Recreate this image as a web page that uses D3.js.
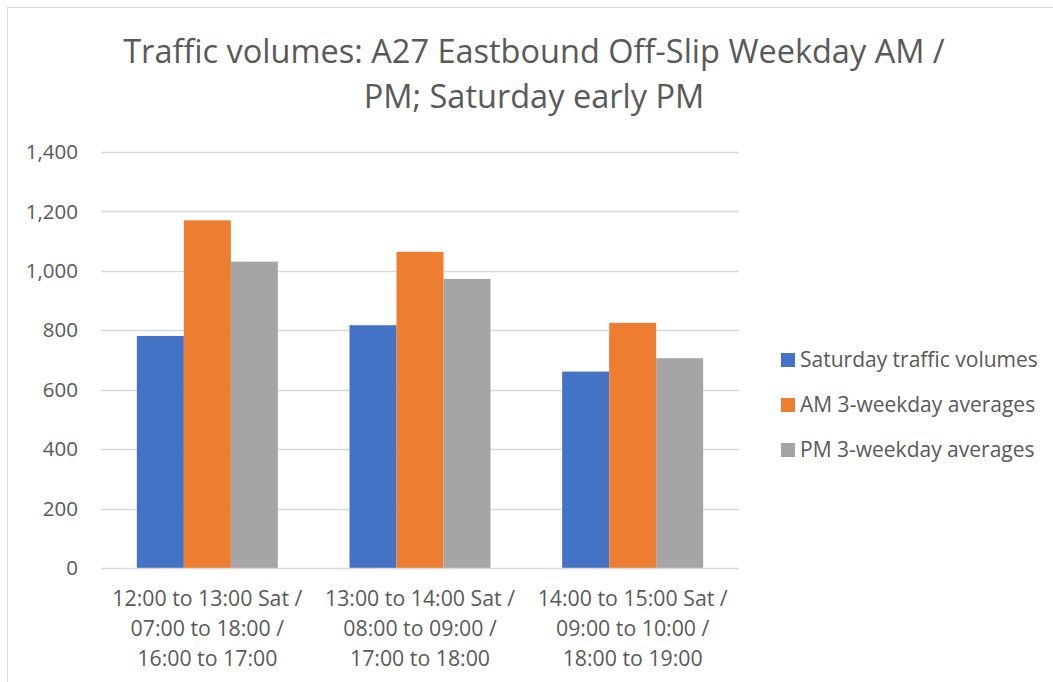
<!DOCTYPE html>
<html><head><meta charset="utf-8">
<script src="https://cdn.jsdelivr.net/npm/d3@7"></script>
<style>body{margin:0;background:#fff}svg{display:block}text{font-family:"Open Sans",sans-serif;fill:#595959}</style>
</head><body>
<script>
const categories = [
  ["12:00 to 13:00 Sat /", "07:00 to 18:00 /", "16:00 to 17:00"],
  ["13:00 to 14:00 Sat /", "08:00 to 09:00 /", "17:00 to 18:00"],
  ["14:00 to 15:00 Sat /", "09:00 to 10:00 /", "18:00 to 19:00"]
];
const seriesNames = ["Saturday traffic volumes", "AM 3-weekday averages", "PM 3-weekday averages"];
const saturday = [781, 817, 661];
const am3 = [1170, 1064, 825];
const pm3 = [1031, 973, 706];
const yTicks = [0, 200, 400, 600, 800, 1000, 1200, 1400];
const titleLines = ["Traffic volumes: A27 Eastbound Off-Slip Weekday AM /", "PM; Saturday early PM"];
const colors = ["#4472C4", "#ED7D31", "#A5A5A5"];

const W = 1053, H = 682;
const svg = d3.select("body").append("svg").attr("width", W).attr("height", H);
svg.append("rect").attr("x", 7.5).attr("y", 7.5).attr("width", 1100).attr("height", 700)
  .attr("fill", "#fff").attr("stroke", "#d9d9d9");

const plot = {left: 101, right: 739, top: 152, bottom: 568};
const y = d3.scaleLinear().domain([0, 1400]).range([plot.bottom, plot.top]);
const catIdx = categories.map((d, i) => i);
const x0 = d3.scaleBand().domain(catIdx).range([plot.left, plot.right]).padding(0);
const gap = x0.bandwidth() * 0.337;
const x1 = d3.scaleBand().domain([0, 1, 2]).range([gap / 2, x0.bandwidth() - gap / 2]).padding(0);

// gridlines
svg.append("g").selectAll("line").data(yTicks.filter(t => t > 0)).join("line")
  .attr("x1", plot.left).attr("x2", plot.right)
  .attr("y1", d => Math.round(y(d)) + 0.5).attr("y2", d => Math.round(y(d)) + 0.5)
  .attr("stroke", "#d9d9d9").attr("stroke-width", 1.3);

// title
const title = svg.append("g");
titleLines.forEach((t, i) => {
  title.append("text").attr("x", 534).attr("y", 63 + i * 45).attr("text-anchor", "middle")
    .attr("font-size", 32.5).text(t);
});

// bars
const series = [saturday, am3, pm3];
const g = svg.append("g");
catIdx.forEach(ci => {
  series.forEach((s, si) => {
    g.append("rect")
      .attr("x", x0(ci) + x1(si)).attr("width", x1.bandwidth())
      .attr("y", y(s[ci])).attr("height", y(0) - y(s[ci]))
      .attr("fill", colors[si]);
  });
});

// axis line
svg.append("line").attr("x1", plot.left).attr("x2", plot.right)
  .attr("y1", Math.round(y(0)) + 0.5).attr("y2", Math.round(y(0)) + 0.5)
  .attr("stroke", "#d9d9d9").attr("stroke-width", 1.3);

// y axis labels
const fmt = d3.format(",");
svg.append("g").selectAll("text").data(yTicks).join("text")
  .attr("x", 78).attr("y", d => y(d)).attr("dy", "0.35em").attr("text-anchor", "end")
  .attr("font-size", 20.5).text(d => fmt(d));

// x axis labels
catIdx.forEach(ci => {
  const cx = x0(ci) + x0.bandwidth() / 2;
  categories[ci].forEach((line, li) => {
    svg.append("text").attr("x", cx).attr("y", 606 + li * 30).attr("text-anchor", "middle")
      .attr("font-size", 21.3).text(line);
  });
});

// legend
const leg = svg.append("g");
seriesNames.forEach((n, i) => {
  const cy = 360 + i * 45;
  leg.append("rect").attr("x", 781).attr("y", cy - 7).attr("width", 14).attr("height", 14).attr("fill", colors[i]);
  leg.append("text").attr("x", 800).attr("y", cy).attr("dy", "0.35em").attr("font-size", 21).text(n);
});
</script>
</body></html>
